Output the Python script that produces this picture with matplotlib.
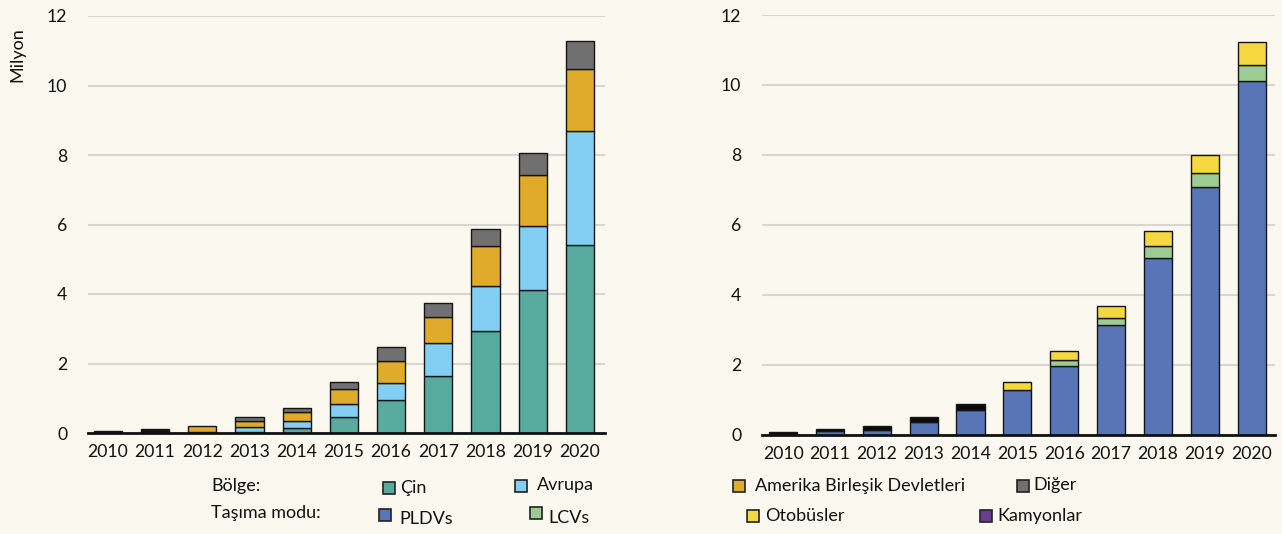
import matplotlib.pyplot as plt
from matplotlib.patches import Rectangle
import numpy as np

# Years on both panels
years = ['2010', '2011', '2012', '2013', '2014', '2015', '2016', '2017', '2018', '2019', '2020']

# Left panel: stock by region (million)
cin = [0.01, 0.02, 0.01, 0.03, 0.135, 0.47, 0.95, 1.64, 2.94, 4.12, 5.41]
avrupa = [0.01, 0.03, 0.01, 0.13, 0.205, 0.36, 0.48, 0.96, 1.29, 1.85, 3.28]
abd = [0.02, 0.05, 0.18, 0.18, 0.26, 0.43, 0.65, 0.75, 1.16, 1.45, 1.78]
diger = [0.01, 0.02, 0.0, 0.11, 0.13, 0.22, 0.39, 0.38, 0.48, 0.64, 0.81]

# Right panel: stock by transport mode (million)
pldv = [0.02, 0.095, 0.13, 0.37, 0.70, 1.27, 1.97, 3.12, 5.06, 7.08, 10.11]
lcv = [0.0, 0.0, 0.0, 0.0, 0.0, 0.0, 0.16, 0.22, 0.34, 0.39, 0.46]
otobus = [0.0, 0.0, 0.0, 0.0, 0.0, 0.22, 0.25, 0.34, 0.43, 0.53, 0.66]
kamyon = [0.0, 0.0, 0.0, 0.0, 0.0, 0.0, 0.0, 0.0, 0.0, 0.0, 0.0]
# unsplit remainder in early years (drawn dark)
belirsiz = [0.04, 0.055, 0.11, 0.12, 0.17, 0.0, 0.0, 0.0, 0.0, 0.0, 0.0]

BG = '#fbf8ef'
C_CIN = '#58a99e'
C_AVR = '#82cff3'
C_ABD = '#e0aa2a'
C_DIG = '#707070'
C_PLDV = '#5875b8'
C_LCV = '#9dcc92'
C_OTO = '#f5d73f'
C_KAM = '#6b3d8f'
C_BEL = '#0a0a0a'

plt.rcParams['font.family'] = ['Lato', 'DejaVu Sans']

fig = plt.figure(figsize=(12.82, 5.34), dpi=100)
fig.patch.set_facecolor(BG)

ax1 = fig.add_axes([88 / 1282, 1 - 433 / 534, (605 - 88) / 1282, (433 - 16) / 534])
ax2 = fig.add_axes([762 / 1282, 1 - 434.5 / 534, (1275 - 762) / 1282, (434.5 - 15) / 534])

x = np.arange(len(years))


def stack(ax, series, colors):
    bottom = np.zeros(len(years))
    for vals, col in zip(series, colors):
        vals = np.array(vals)
        mask = vals > 0
        ax.bar(x[mask], vals[mask], 0.6, bottom=bottom[mask], color=col,
               edgecolor='#151515', linewidth=1.0, zorder=3)
        bottom += vals


stack(ax1, [cin, avrupa, abd, diger], [C_CIN, C_AVR, C_ABD, C_DIG])
stack(ax2, [pldv, lcv, otobus, kamyon, belirsiz], [C_PLDV, C_LCV, C_OTO, C_KAM, C_BEL])

for ax, xl in [(ax1, (-0.42, 10.53)), (ax2, (-0.45, 10.5))]:
    ax.set_facecolor(BG)
    ax.set_xlim(*xl)
    ax.set_ylim(0, 12)
    ax.set_yticks(range(0, 13, 2))
    ax.set_xticks(x)
    ax.set_xticklabels(years)
    ax.tick_params(axis='both', length=0, labelsize=12.7, colors='#111111')
    ax.tick_params(axis='y', pad=15)
    ax.tick_params(axis='x', pad=8)
    ax.yaxis.grid(True, color='#d8d6d0', linewidth=1.5, zorder=0)
    for s in ['top', 'right', 'left']:
        ax.spines[s].set_visible(False)
    ax.spines['bottom'].set_linewidth(2)
    ax.spines['bottom'].set_color('#111111')
    ax.spines['bottom'].set_zorder(4)

fig.text(17 / 1282, 1 - 55 / 534, 'Milyon', rotation=90, ha='center', va='center',
         fontsize=13, color='#111111')

# Legend built by hand
def key(xp, yp, col, label, tx, ty):
    fig.patches.append(Rectangle((xp / 1282, 1 - (yp + 6) / 534), 12 / 1282, 12 / 534,
                                 transform=fig.transFigure, facecolor=col,
                                 edgecolor='#222222', linewidth=1.2))
    fig.text(tx / 1282, 1 - ty / 534, label, ha='left', va='center',
             fontsize=13, color='#111111')


fig.text(211 / 1282, 1 - 486 / 534, 'Bölge:', ha='left', va='center', fontsize=13, color='#111111')
fig.text(211 / 1282, 1 - 513 / 534, 'Taşıma modu:', ha='left', va='center', fontsize=13, color='#111111')

key(383, 488, C_CIN, 'Çin', 400, 488)
key(515, 486, C_AVR, 'Avrupa', 537, 485)
key(733, 486, C_ABD, 'Amerika Birleşik Devletleri', 755, 486)
key(1017, 486, C_DIG, 'Diğer', 1033, 485)
key(379, 515, C_PLDV, 'PLDVs', 399, 519)
key(530, 513, C_LCV, 'LCVs', 548, 518)
key(747, 516, C_OTO, 'Otobüsler', 765, 516)
key(980, 516, C_KAM, 'Kamyonlar', 997, 516)

plt.savefig('out.png', dpi=100, facecolor=BG)
